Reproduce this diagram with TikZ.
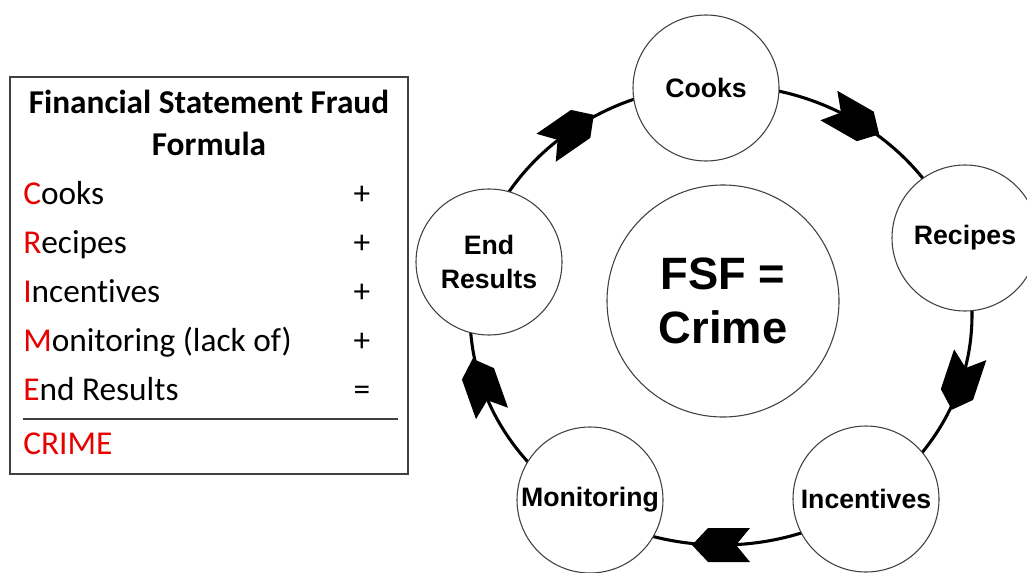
\documentclass[tikz,border=0pt]{standalone}
\usepackage{fontspec}
\setmainfont{Liberation Sans}
\newfontfamily\calibri[Ligatures=NoCommon]{Carlito}
\definecolor{fred}{RGB}{230,0,0}
\definecolor{edge}{RGB}{64,64,64}
\begin{document}
\begin{tikzpicture}[x=0.75pt,y=0.75pt,
  stage/.style={circle, draw=edge, line width=0.8pt, fill=white, minimum size=109.5pt, inner sep=0pt, font=\bfseries\fontsize{20}{25}\selectfont, align=center},
  core/.style={circle, draw=edge, line width=0.8pt, fill=white, minimum size=174pt, inner sep=0pt, font=\bfseries\fontsize{34}{40}\selectfont, align=center},
  ring/.style={line width=2.3pt, black},
  chev/.style={fill=black},
  row/.style={anchor=base west, inner sep=0pt, font=\calibri\fontsize{25}{30}\selectfont},
  op/.style={anchor=base, inner sep=0pt, font=\calibri\fontsize{25}{30}\selectfont},
  heading/.style={anchor=base, inner sep=0pt, font=\calibri\bfseries\fontsize{25}{30}\selectfont},
  frame/.style={draw=edge, line width=1.1pt, inner sep=0pt, minimum width=298.5pt, minimum height=297.75pt},
  rule/.style={draw=edge, line width=0.9pt}
]
\useasboundingbox (0,0) rectangle (1027,572);

% ---- formula box ----
\node[frame] (box) at (209,296.5) {};
\node[heading] (t1) at (209,458) {Financial Statement Fraud};
\node[heading] (t2) at (209,416) {Formula};
\node[row] (r1) at (23,368) {\textcolor{fred}{C}ooks};
\node[row] (r2) at (23,319) {\textcolor{fred}{R}ecipes};
\node[row] (r3) at (23,270) {\textcolor{fred}{I}ncentives};
\node[row] (r4) at (23,221) {\textcolor{fred}{M}onitoring (lack of)};
\node[row] (r5) at (23,172) {\textcolor{fred}{E}nd Results};
\node[op] (o1) at (362,368) {+};
\node[op] (o2) at (362,319) {+};
\node[op] (o3) at (362,270) {+};
\node[op] (o4) at (362,221) {+};
\node[op] (o5) at (362,172) {=};
\coordinate (sl) at (23,153);
\coordinate (sr) at (398,153);
\draw[rule] (sl) -- (sr);
\node[row, text=fred] (crime) at (23,118) {CRIME};

% ---- cycle ----
\coordinate (hub) at (721,257);
\draw[ring] (hub) ellipse [x radius=251, y radius=230];
\foreach \t in {127,58,-17,-90,-162}{
  \pgfmathsetmacro\px{721+251*cos(\t)}
  \pgfmathsetmacro\py{257+230*sin(\t)}
  \pgfmathsetmacro\ang{atan2(-230*cos(\t),251*sin(\t))}
  \fill[chev, shift={(\px,\py)}, rotate=\ang] (29,0) -- (13,17) -- (-29,17) -- (-15,0) -- (-29,-17) -- (13,-17) -- cycle;
}
\node[stage] (cooks) at (706,484) {Cooks};
\node[stage] (recipes) at (965,334) {Recipes};
\node[stage] (incent) at (866,73) {Incentives};
\node[stage] (monit) at (590,72) {\raisebox{-2pt}{Monitoring}};
\node[stage] (endres) at (489,310) {End\\Results};
\node[core] (fsf) at (723,271) {FSF =\\Crime};
\end{tikzpicture}
\end{document}
